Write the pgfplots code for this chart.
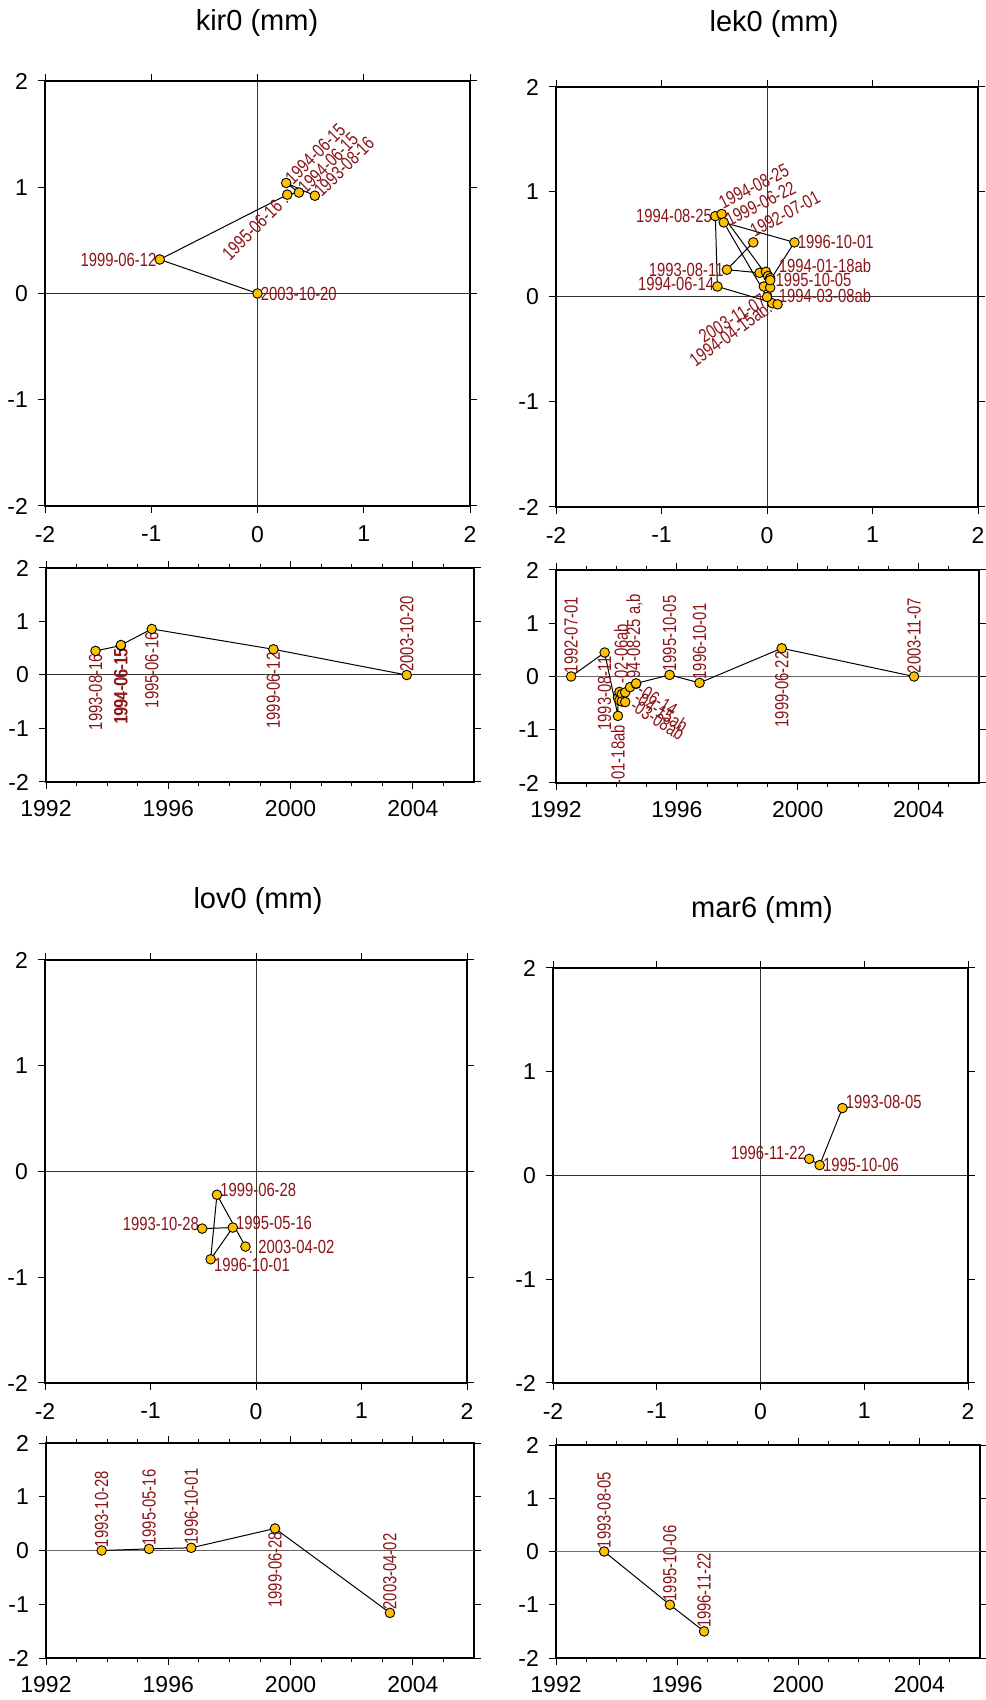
\documentclass[border=0pt]{standalone}
\usepackage{pgfplots}
\pgfplotsset{compat=1.18}
\usepackage{fontspec}
\setmainfont{Liberation Sans}
\usepackage{graphicx}
\definecolor{labred}{RGB}{138,20,24}
\definecolor{gold}{RGB}{255,192,0}
\newcommand{\lb}[1]{\scalebox{0.78}[1]{#1}}
\pgfplotsset{
  gmt/.style={scale only axis, tick align=outside,
    major tick length=3.5pt, minor tick length=2pt,
    axis line style={line width=0.9pt},
    every tick/.style={black, line width=0.5pt},
    tick label style={font=\fontsize{11.5}{12}\selectfont},
    yticklabel style={xshift=-1.5pt},
    /pgf/number format/assume math mode=true,
    /pgf/number format/1000 sep={}, clip=false},
  toppan/.style={gmt, xmin=-2,xmax=2,ymin=-2,ymax=2,
    xtick={-2,-1,0,1,2}, ytick={-2,-1,0,1,2},
    xticklabel style={yshift=-3pt}},
  botpan/.style={gmt, xmin=1992,xmax=2006,ymin=-2,ymax=2,
    xtick={1992,1996,2000,2004},
    minor xtick={1993,1994,1995,1997,1998,1999,2001,2002,2003,2005},
    ytick={-2,-1,0,1,2}, xticklabel style={yshift=-2pt}},
  ser/.style={black, line width=0.5pt, mark=*, mark size=2.4pt,
    mark options={fill=gold, draw=black, line width=0.45pt}},
}
\tikzset{lab/.style={text=labred, font=\fontsize{9.5}{10}\selectfont, inner sep=1.5pt}}
\begin{document}
\begin{tikzpicture}
\path[use as bounding box] (0,0) rectangle (492.5pt,850pt);
% titles
\node[font=\fontsize{14.5}{16}\selectfont] at (128.5pt,838.5pt) {kir0 (mm)};
\node[font=\fontsize{14.5}{16}\selectfont] at (387pt,838pt) {lek0 (mm)};
\node[font=\fontsize{14.5}{16}\selectfont] at (129pt,399.5pt) {lov0 (mm)};
\node[font=\fontsize{14.5}{16}\selectfont] at (381pt,395pt) {mar6 (mm)};

% ---------------- kir0 top
\begin{axis}[toppan, at={(22.5pt,597pt)}, anchor=south west, width=212.5pt, height=212.5pt]
\draw[black!80, line width=0.5pt] (axis cs:0,-2) -- (axis cs:0,2);
\draw[black!80, line width=0.5pt] (axis cs:-2,0) -- (axis cs:2,0);
\addplot[ser] coordinates {(0.54,0.92) (0.27,1.04) (0.39,0.95) (0.28,0.93) (-0.92,0.32) (0,0)};
\node[lab, anchor=west, rotate=45] at (axis cs:0.27,1.04) {\lb{1994-06-15}};
\node[lab, anchor=west, rotate=45] at (axis cs:0.39,0.95) {\lb{1994-06-15}};
\node[lab, anchor=west, rotate=45] at (axis cs:0.54,0.92) {\lb{1993-08-16}};
\node[lab, anchor=east, rotate=45] at (axis cs:0.28,0.93) {\lb{1995-06-16 .}};
\node[lab, anchor=east] at (axis cs:-0.92,0.32) {\lb{1999-06-12}};
\node[lab, anchor=west] at (axis cs:0,0) {\lb{2003-10-20}};
\end{axis}

% ---------------- kir0 bottom
\begin{axis}[botpan, at={(23pt,459pt)}, anchor=south west, width=214pt, height=107pt]
\draw[black!80, line width=0.5pt] (axis cs:1992,0) -- (axis cs:2006,0);
\addplot[ser] coordinates {(1993.62,0.45) (1994.45,0.55) (1994.45,0.56) (1995.46,0.86) (1999.44,0.48) (2003.80,0)};
\node[lab, anchor=east, rotate=90] at (axis cs:1993.62,0.45) {\lb{1993-08-16}};
\node[lab, anchor=east, rotate=90] at (axis cs:1994.45,0.55) {\lb{1994-06-15}};
\node[lab, anchor=east, rotate=90, xshift=0.5pt] at (axis cs:1994.45,0.55) {\lb{1994-06-15}};
\node[lab, anchor=east, rotate=90] at (axis cs:1995.46,0.86) {\lb{1995-06-16}};
\node[lab, anchor=east, rotate=90] at (axis cs:1999.44,0.48) {\lb{1999-06-12}};
\node[lab, anchor=west, rotate=90] at (axis cs:2003.80,0) {\lb{2003-10-20}};
\end{axis}

% ---------------- lek0 top
\begin{axis}[toppan, at={(278pt,596.5pt)}, anchor=south west, width=211pt, height=210pt]
\draw[black!80, line width=0.5pt] (axis cs:0,-2) -- (axis cs:0,2);
\draw[black!80, line width=0.5pt] (axis cs:-2,0) -- (axis cs:2,0);
\addplot[ser] coordinates {(-0.13,0.52) (-0.38,0.26) (-0.07,0.23) (-0.01,0.24) (0.01,0.20) (0.03,0.18) (-0.03,0.10) (0.03,0.09) (0.05,-0.06) (0.10,-0.07) (-0.47,0.10) (-0.49,0.77) (-0.43,0.79) (0.03,0.16) (0.26,0.52) (-0.41,0.71) (0,0)};
\node[lab, anchor=east] at (axis cs:-0.49,0.77) {\lb{1994-08-25}};
\node[lab, anchor=south west, rotate=27] at (axis cs:-0.43,0.79) {\lb{1994-08-25}};
\node[lab, anchor=west, rotate=27] at (axis cs:-0.41,0.71) {\lb{1999-06-22}};
\node[lab, anchor=south west, rotate=28] at (axis cs:-0.13,0.52) {\lb{1992-07-01}};
\node[lab, anchor=west] at (axis cs:0.26,0.52) {\lb{1996-10-01}};
\node[lab, anchor=east] at (axis cs:-0.38,0.26) {\lb{1993-08-11}};
\node[lab, anchor=east, yshift=1.5pt] at (axis cs:-0.47,0.10) {\lb{1994-06-14}};
\node[lab, anchor=west] at (axis cs:0.08,0.30) {\lb{1994-01-18ab}};
\node[lab, anchor=west] at (axis cs:0.05,0.16) {\lb{1995-10-05}};
\node[lab, anchor=west] at (axis cs:0.08,0.01) {\lb{1994-03-08ab}};
\node[lab, anchor=east, rotate=32] at (axis cs:0,0) {\lb{2003-11-07}};
\node[lab, anchor=east, rotate=36] at (axis cs:0.05,-0.06) {\lb{1994-04-15ab.}};
\end{axis}

% ---------------- lek0 bottom
\begin{axis}[botpan, at={(278pt,458.5pt)}, anchor=south west, width=211.5pt, height=106.5pt]
\draw[black!60, line width=0.6pt] (axis cs:1992,0) -- (axis cs:2006,0);
\addplot[ser] coordinates {(1992.50,0) (1993.61,0.45) (1994.05,-0.74) (1994.05,-0.40) (1994.10,-0.29) (1994.10,-0.45) (1994.18,-0.33) (1994.18,-0.47) (1994.29,-0.30) (1994.29,-0.48) (1994.45,-0.20) (1994.65,-0.14) (1994.65,-0.13) (1995.76,0.03) (1996.75,-0.12) (1999.47,0.53) (2003.85,0)};
\node[lab, anchor=west, rotate=90] at (axis cs:1992.50,0) {\lb{1992-07-01}};
\node[lab, anchor=east, rotate=90] at (axis cs:1993.61,0.45) {\lb{1993-08-11}};
\node[lab, anchor=east, rotate=90] at (axis cs:1994.05,-0.85) {\lb{-01-18ab}};
\node[lab, anchor=west, rotate=90] at (axis cs:1994.15,-0.19) {\lb{-02-06ab}};
\node[lab, anchor=west, rotate=90] at (axis cs:1994.60,-0.10) {\lb{94-08-25 a,b}};
\node[lab, anchor=west, rotate=-33] at (axis cs:1994.67,-0.19) {\lb{-06-14}};
\node[lab, anchor=west, rotate=-33] at (axis cs:1994.56,-0.32) {\lb{-04-15ab}};
\node[lab, anchor=west, rotate=-33] at (axis cs:1994.45,-0.47) {\lb{-03-08ab}};
\node[lab, anchor=west, rotate=90] at (axis cs:1995.76,0.03) {\lb{1995-10-05}};
\node[lab, anchor=west, rotate=90] at (axis cs:1996.75,-0.12) {\lb{1996-10-01}};
\node[lab, anchor=east, rotate=90] at (axis cs:1999.47,0.53) {\lb{1999-06-22}};
\node[lab, anchor=west, rotate=90] at (axis cs:2003.85,0) {\lb{2003-11-07}};
\end{axis}

% ---------------- lov0 top
\begin{axis}[toppan, at={(22.5pt,158.5pt)}, anchor=south west, width=211pt, height=211.5pt]
\draw[black!80, line width=0.5pt] (axis cs:0,-2) -- (axis cs:0,2);
\draw[black!80, line width=0.5pt] (axis cs:-2,0) -- (axis cs:2,0);
\addplot[ser] coordinates {(-0.51,-0.54) (-0.22,-0.53) (-0.43,-0.83) (-0.37,-0.22) (-0.10,-0.71)};
\node[lab, anchor=west, yshift=2.5pt] at (axis cs:-0.37,-0.22) {\lb{1999-06-28}};
\node[lab, anchor=east, yshift=2.5pt] at (axis cs:-0.51,-0.54) {\lb{1993-10-28}};
\node[lab, anchor=west, yshift=2.5pt] at (axis cs:-0.22,-0.53) {\lb{1995-05-16}};
\node[lab, anchor=west] at (axis cs:-0.10,-0.71) {\lb{. 2003-04-02}};
\node[lab, anchor=west, yshift=-3pt] at (axis cs:-0.43,-0.83) {\lb{1996-10-01}};
\end{axis}

% ---------------- lov0 bottom
\begin{axis}[botpan, at={(23pt,21pt)}, anchor=south west, width=214pt, height=107.5pt]
\draw[black!60, line width=0.6pt] (axis cs:1992,0) -- (axis cs:2006,0);
\addplot[ser] coordinates {(1993.82,0) (1995.37,0.03) (1996.75,0.05) (1999.49,0.41) (2003.25,-1.16)};
\node[lab, anchor=west, rotate=90] at (axis cs:1993.82,0) {\lb{1993-10-28}};
\node[lab, anchor=west, rotate=90] at (axis cs:1995.37,0.03) {\lb{1995-05-16}};
\node[lab, anchor=west, rotate=90] at (axis cs:1996.75,0.05) {\lb{1996-10-01}};
\node[lab, anchor=east, rotate=90] at (axis cs:1999.49,0.41) {\lb{1999-06-28}};
\node[lab, anchor=west, rotate=90] at (axis cs:2003.25,-1.16) {\lb{2003-04-02}};
\end{axis}

% ---------------- mar6 top
\begin{axis}[toppan, at={(276.5pt,158.5pt)}, anchor=south west, width=207.5pt, height=207.5pt]
\draw[black!80, line width=0.5pt] (axis cs:0,-2) -- (axis cs:0,2);
\draw[black!80, line width=0.5pt] (axis cs:-2,0) -- (axis cs:2,0);
\addplot[ser] coordinates {(0.79,0.65) (0.57,0.10) (0.47,0.16)};
\node[lab, anchor=west, yshift=3pt] at (axis cs:0.79,0.65) {\lb{1993-08-05}};
\node[lab, anchor=west] at (axis cs:0.57,0.10) {\lb{1995-10-06}};
\node[lab, anchor=east, yshift=3pt] at (axis cs:0.47,0.16) {\lb{1996-11-22}};
\end{axis}

% ---------------- mar6 bottom
\begin{axis}[botpan, at={(278pt,21pt)}, anchor=south west, width=212pt, height=106.5pt]
\draw[black!55, line width=0.9pt] (axis cs:1992,0) -- (axis cs:2006,0);
\addplot[ser] coordinates {(1993.59,0) (1995.76,-1.0) (1996.89,-1.5)};
\node[lab, anchor=west, rotate=90] at (axis cs:1993.59,0) {\lb{1993-08-05}};
\node[lab, anchor=west, rotate=90] at (axis cs:1995.76,-1.0) {\lb{1995-10-06}};
\node[lab, anchor=west, rotate=90] at (axis cs:1996.89,-1.5) {\lb{1996-11-22}};
\end{axis}
\end{tikzpicture}
\end{document}
